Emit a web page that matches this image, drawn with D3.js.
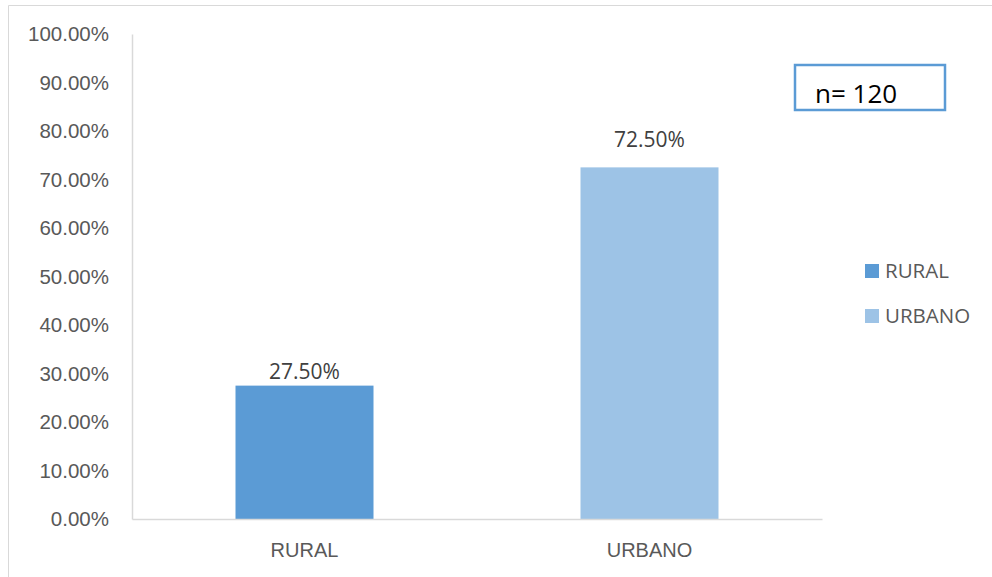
<!DOCTYPE html>
<html>
<head>
<meta charset="utf-8">
<script src="https://cdn.jsdelivr.net/npm/d3@7"></script>
<style>
  html, body { margin: 0; padding: 0; background: #fff; }
  svg { display: block; font-family: "Open Sans", "DejaVu Sans", sans-serif; }
</style>
</head>
<body>
<svg id="svg" width="992" height="577"></svg>
<script>
const categories = ["RURAL", "URBANO"];
const values = [0.275, 0.725];
const colors = ["#5b9bd5", "#9dc3e6"];
const yTicks = [0, 0.1, 0.2, 0.3, 0.4, 0.5, 0.6, 0.7, 0.8, 0.9, 1.0];
const sampleNote = "n= 120";

const svg = d3.select("#svg");
const fmt = d3.format(".2%");

// chart frame
svg.append("path")
    .attr("d", "M8.5,577 V5.5 H992")
    .attr("fill", "none")
    .attr("stroke", "#d9d9d9")
    .attr("stroke-width", 1);

const plot = {left: 132, right: 822, top: 34, bottom: 519};

const x = d3.scaleBand()
    .domain(categories)
    .range([plot.left, plot.right])
    .paddingInner(0.6)
    .paddingOuter(0.3);

const y = d3.scaleLinear()
    .domain([0, 1])
    .range([plot.bottom, plot.top]);

// y axis
const yAxis = svg.append("g")
    .attr("transform", `translate(${plot.left},0)`)
    .call(d3.axisLeft(y).tickValues(yTicks).tickFormat(fmt).tickSize(0).tickPadding(23));
yAxis.select(".domain").attr("stroke", "#d9d9d9").attr("stroke-width", 1.5);
yAxis.selectAll("text")
    .attr("fill", "#595959")
    .style("font-size", "20.5px");

// bars
svg.selectAll("rect.bar")
    .data(values)
    .enter()
    .append("rect")
    .attr("class", "bar")
    .attr("x", (d, i) => x(categories[i]))
    .attr("y", d => y(d))
    .attr("width", x.bandwidth())
    .attr("height", d => y(0) - y(d))
    .attr("fill", (d, i) => colors[i]);

// x axis
const xAxis = svg.append("g")
    .attr("transform", `translate(0,${plot.bottom})`)
    .call(d3.axisBottom(x).tickSize(0).tickPadding(24));
xAxis.select(".domain").attr("stroke", "#d9d9d9").attr("stroke-width", 1.5);
xAxis.selectAll("text")
    .attr("fill", "#595959")
    .style("font-size", "20px");

// value labels (Excel placed them at slightly different gaps)
svg.selectAll("text.val")
    .data(values)
    .enter()
    .append("text")
    .attr("class", "val")
    .attr("x", (d, i) => x(categories[i]) + x.bandwidth() / 2)
    .attr("y", (d, i) => y(d) - (i === 0 ? 7 : 20))
    .attr("text-anchor", "middle")
    .attr("fill", "#404040")
    .style("font-size", "21px")
    .text(fmt);

// legend
const legend = svg.selectAll("g.leg")
    .data(categories)
    .enter()
    .append("g")
    .attr("class", "leg")
    .attr("transform", (d, i) => `translate(865,${264 + i * 45})`);
legend.append("rect")
    .attr("width", 14)
    .attr("height", 14)
    .attr("fill", (d, i) => colors[i]);
legend.append("text")
    .attr("x", 20)
    .attr("y", 14)
    .attr("fill", "#595959")
    .style("font-size", "20.5px")
    .text(d => d);

// sample size box
svg.append("rect")
    .attr("x", 795)
    .attr("y", 65)
    .attr("width", 150)
    .attr("height", 45)
    .attr("fill", "#fff")
    .attr("stroke", "#5b9bd5")
    .attr("stroke-width", 2.5);
svg.append("text")
    .attr("x", 815)
    .attr("y", 103)
    .attr("fill", "#000")
    .style("font-size", "26px")
    .text(sampleNote);
</script>
</body>
</html>
